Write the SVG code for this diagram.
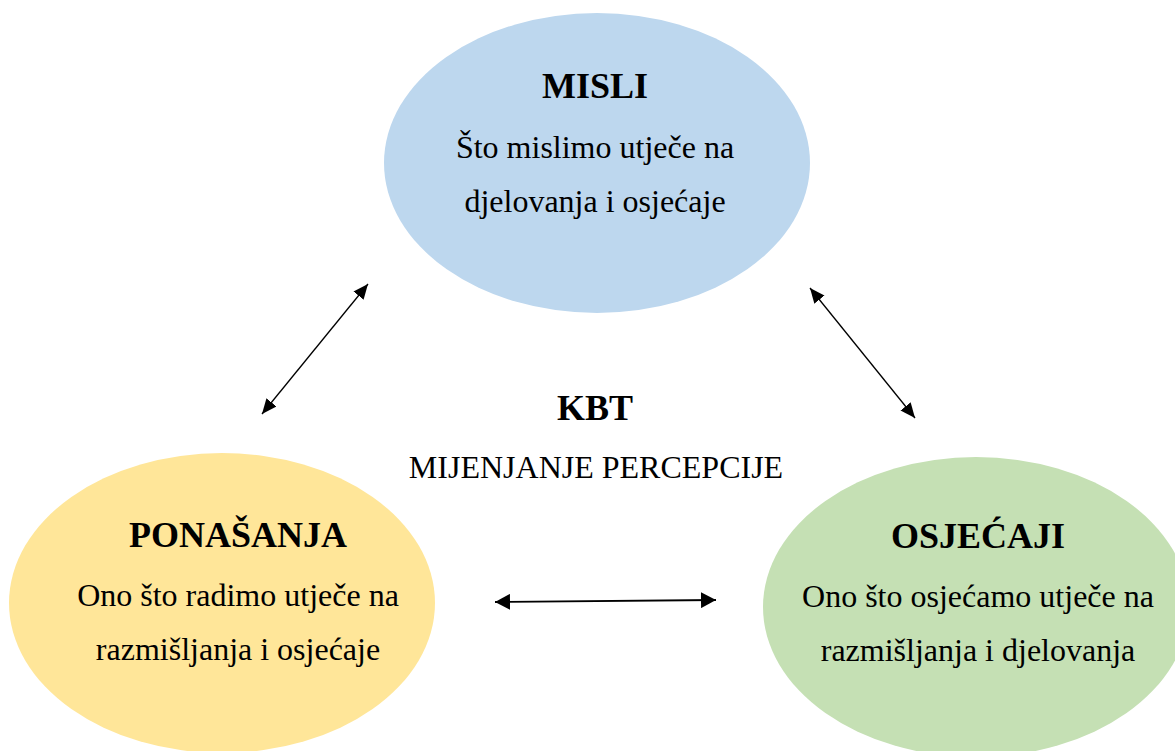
<svg xmlns="http://www.w3.org/2000/svg" width="1175" height="751" viewBox="0 0 1175 751">
<style>
text{font-family:"Liberation Serif","Times New Roman",serif;fill:#000;text-anchor:middle}
.h{font-weight:bold;font-size:36px}
.b{font-size:32px}
.c{stroke:#000;fill:none}
</style>
<defs>
<marker id="ah" markerUnits="userSpaceOnUse" markerWidth="16" markerHeight="14" refX="15" refY="6.5" orient="auto-start-reverse">
<path d="M0,0 L15,6.5 L0,13 z" fill="#000"/>
</marker>
<marker id="ahb" markerUnits="userSpaceOnUse" markerWidth="16" markerHeight="16" refX="15" refY="8" orient="auto-start-reverse">
<path d="M0,0 L15,8 L0,16 z" fill="#000"/>
</marker>
</defs>
<rect width="1175" height="751" fill="#fff"/>
<g id="misli">
<ellipse cx="597" cy="163" rx="213" ry="150" fill="#BDD7EE"/>
<text class="h" x="595" y="98">MISLI</text>
<text class="b" x="595" y="158">Što mislimo utječe na</text>
<text class="b" x="595" y="212">djelovanja i osjećaje</text>
</g>
<g id="ponasanja">
<ellipse cx="222" cy="603" rx="213" ry="150" fill="#FFE699"/>
<text class="h" x="238" y="547">PONAŠANJA</text>
<text class="b" x="238" y="606">Ono što radimo utječe na</text>
<text class="b" x="238" y="660">razmišljanja i osjećaje</text>
</g>
<g id="osjecaji">
<ellipse cx="976" cy="607" rx="213" ry="150" fill="#C5E0B4"/>
<text class="h" x="978" y="548">OSJEĆAJI</text>
<text class="b" x="978" y="607">Ono što osjećamo utječe na</text>
<text class="b" x="978" y="661">razmišljanja i djelovanja</text>
</g>
<g id="kbt">
<text class="h" x="595" y="420">KBT</text>
<text class="b" x="596" y="478">MIJENJANJE PERCEPCIJE</text>
</g>
<g id="connectors">
<line class="c" x1="368" y1="284" x2="262" y2="414" stroke-width="1.3" marker-start="url(#ah)" marker-end="url(#ah)"/>
<line class="c" x1="810" y1="288" x2="915" y2="418" stroke-width="1.3" marker-start="url(#ah)" marker-end="url(#ah)"/>
<line class="c" x1="495" y1="602" x2="716" y2="600" stroke-width="1.8" marker-start="url(#ahb)" marker-end="url(#ahb)"/>
</g>
</svg>
